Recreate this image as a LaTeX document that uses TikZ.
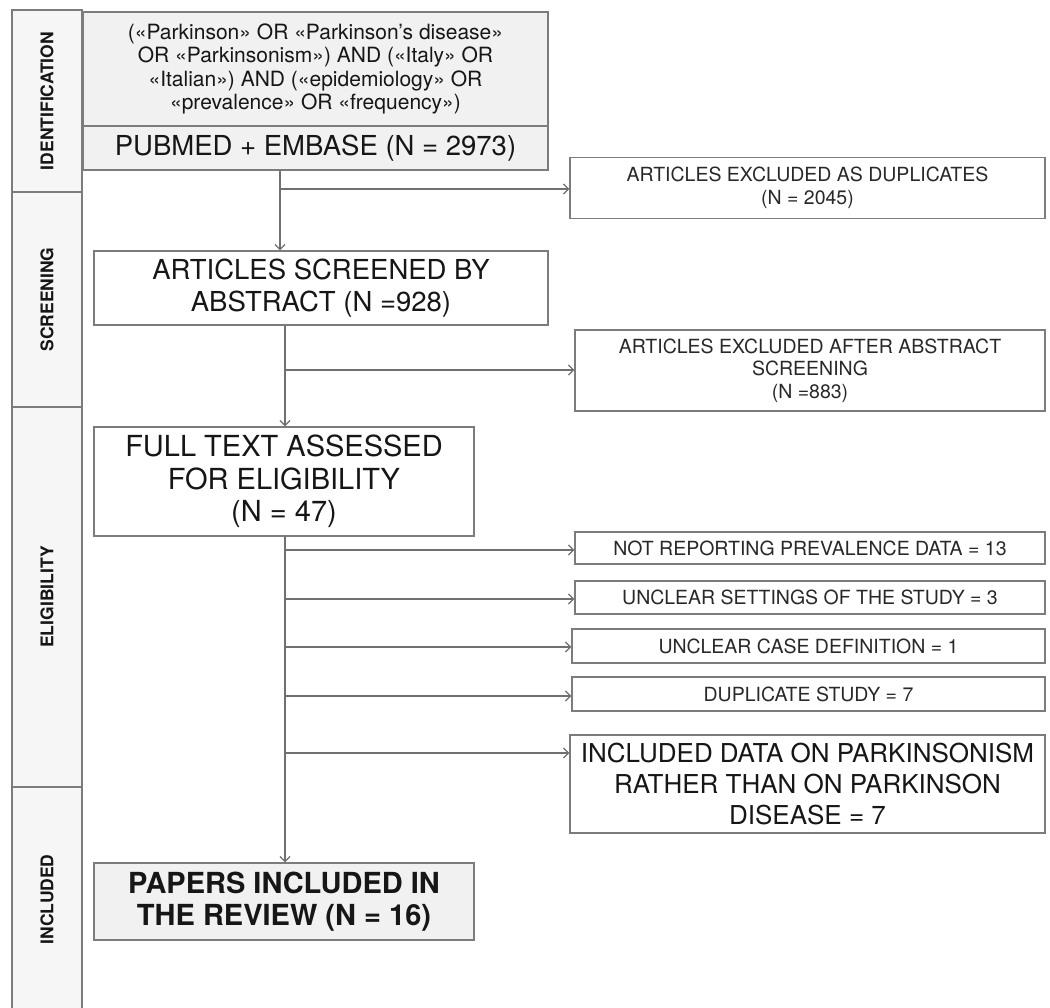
\documentclass[tikz,border=0pt]{standalone}
\usepackage{fontspec}
\setmainfont{TeX Gyre Heros}
\usetikzlibrary{arrows.meta}
\definecolor{linegray}{HTML}{7C7C7C}
\definecolor{arrowgray}{HTML}{707070}
\definecolor{fillgray}{HTML}{F1F1F1}
\definecolor{lanefill}{HTML}{F6F6F6}
\definecolor{txt}{HTML}{161616}
\definecolor{txtsmall}{HTML}{282828}
\begin{document}
\begin{tikzpicture}[x=1pt,y=-1pt,
  lane/.style={draw=linegray, fill=lanefill, line width=1.3pt, rotate=90, inner sep=0pt,
    text=txt, font=\bfseries\fontsize{17.5}{17.5}\selectfont},
  box/.style={draw=linegray, line width=1.4pt, fill=white, inner sep=0pt, align=center, text=txt},
  smalltxt/.style={text=txtsmall, font=\fontsize{19.5}{22.5}\selectfont},
  arr/.style={draw=arrowgray, line width=1.2pt, -{Straight Barb[length=5pt,width=10pt]}},
  conn/.style={draw=arrowgray, line width=1.2pt}
]
\useasboundingbox (0,0) rectangle (1050,1008);
\fill[white] (0,0) rectangle (1050,1008);

% lanes
\node[lane, minimum width=182pt, minimum height=70pt] (lid) at (47,101) {IDENTIFICATION};
\node[lane, minimum width=215pt, minimum height=70pt] (lsc) at (47,299.5) {SCREENING};
\node[lane, minimum width=380pt, minimum height=70pt] (lel) at (47,597) {ELIGIBILITY};
\node[lane, minimum width=225pt, minimum height=70pt] (lin) at (47,899.5) {INCLUDED};

% main column
\node[box, fill=fillgray, minimum width=465pt, minimum height=114pt,
  font=\fontsize{21}{23.5}\selectfont] (query) at (315.5,69)
  {(«Parkinson» OR «Parkinson’s disease»\\ OR «Parkinsonism») AND («Italy» OR\\ «Italian») AND («epidemiology» OR\\ «prevalence» OR «frequency»)};
\node[box, fill=fillgray, minimum width=465pt, minimum height=44pt,
  font=\fontsize{27.5}{30}\selectfont] (pubmed) at (315.5,148) {PUBMED + EMBASE (N = 2973)};

\node[box, minimum width=454pt, minimum height=74pt,
  font=\fontsize{27.5}{32}\selectfont] (scr) at (321,288) {ARTICLES SCREENED BY\\ABSTRACT (N =928)};

\node[box, minimum width=380pt, minimum height=109pt,
  font=\fontsize{29}{32.5}\selectfont] (full) at (284,481.5) {FULL TEXT ASSESSED\\FOR ELIGIBILITY\\(N = 47)};

\node[box, fill=fillgray, minimum width=380pt, minimum height=77pt,
  font=\bfseries\fontsize{29}{32}\selectfont] (papers) at (284,901.5) {PAPERS INCLUDED IN\\THE REVIEW (N = 16)};

% exclusion boxes
\node[box, smalltxt, minimum width=475pt, minimum height=61pt] (dup) at (807.5,188)
  {ARTICLES EXCLUDED AS DUPLICATES\\(N = 2045)};
\node[box, smalltxt, minimum width=470pt, minimum height=81pt] (abs) at (810,370.5)
  {ARTICLES EXCLUDED AFTER ABSTRACT\\SCREENING\\(N =883)};
\node[box, smalltxt, minimum width=470pt, minimum height=32pt] (e1) at (810,548)
  {NOT REPORTING PREVALENCE DATA = 13};
\node[box, smalltxt, minimum width=470pt, minimum height=33pt] (e2) at (810,597.5)
  {UNCLEAR SETTINGS OF THE STUDY = 3};
\node[box, smalltxt, minimum width=473pt, minimum height=34pt] (e3) at (808.5,646)
  {UNCLEAR CASE DEFINITION = 1};
\node[box, smalltxt, minimum width=473pt, minimum height=34pt] (e4) at (808.5,694)
  {DUPLICATE STUDY = 7};
\node[box, minimum width=475pt, minimum height=98pt,
  font=\fontsize{26}{31}\selectfont] (e5) at (807.5,784)
  {INCLUDED DATA ON PARKINSONISM\\RATHER THAN ON PARKINSON\\DISEASE = 7};

% connectors
\coordinate (c1) at (280,189);
\draw[arr] (c1 |- pubmed.south) -- (c1 |- scr.north);
\draw[arr] (c1) -- (c1 -| dup.west);

\coordinate (c2) at (285,370);
\draw[arr] (c2 |- scr.south) -- (c2 |- full.north);
\draw[arr] (c2) -- (c2 -| abs.west);

\coordinate (c3) at (285,550);
\draw[arr] (c3 |- full.south) -- (c3 |- papers.north);
\coordinate (b1) at (285,550);
\coordinate (b2) at (285,599);
\coordinate (b3) at (285,647);
\coordinate (b4) at (285,696);
\coordinate (b5) at (285,753);
\draw[arr] (b1) -- (b1 -| e1.west);
\draw[arr] (b2) -- (b2 -| e2.west);
\draw[arr] (b3) -- (b3 -| e3.west);
\draw[arr] (b4) -- (b4 -| e4.west);
\draw[arr] (b5) -- (b5 -| e5.west);
\end{tikzpicture}
\end{document}
